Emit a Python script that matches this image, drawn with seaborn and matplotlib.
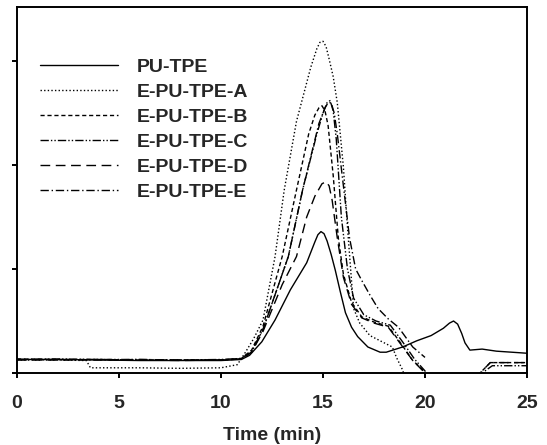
import numpy as np
import pandas as pd
import matplotlib
matplotlib.use("Agg")
import matplotlib.pyplot as plt
import seaborn as sns

# ---- data ----
series_names = ["PU-TPE", "E-PU-TPE-A", "E-PU-TPE-B", "E-PU-TPE-C", "E-PU-TPE-D", "E-PU-TPE-E"]

t_pu = [0, 2, 4, 6, 8, 10, 11, 11.4, 12.0, 12.65, 13.4, 14.2, 14.6, 14.75, 14.9, 15.05, 15.2, 15.4, 15.6,
        15.85, 16.1, 16.4, 16.7, 17.2, 17.8, 18.1, 18.9, 19.6, 20.3, 20.9, 21.2, 21.4, 21.6, 21.8, 21.96,
        22.2, 22.8, 23.5, 25]
y_pu = [0.13, 0.13, 0.125, 0.12, 0.12, 0.12, 0.13, 0.17, 0.30, 0.51, 0.80, 1.06, 1.26, 1.33, 1.36, 1.34,
        1.27, 1.14, 0.99, 0.78, 0.58, 0.44, 0.35, 0.25, 0.20, 0.20, 0.25, 0.31, 0.36, 0.43, 0.48, 0.50, 0.47,
        0.38, 0.29, 0.22, 0.23, 0.21, 0.19]

t_a = [0, 2, 3.4, 3.6, 6, 8, 10, 10.8, 11.2, 11.6, 12.06, 12.65, 13.1, 13.7, 14.4, 14.7, 14.85, 15.0,
       15.15, 15.3, 15.5, 15.7, 16.0, 16.2, 16.5, 16.8, 17.3, 18.0, 18.4, 18.6, 18.9, 19.1]
y_a = [0.125, 0.125, 0.12, 0.05, 0.05, 0.045, 0.05, 0.08, 0.20, 0.33, 0.51, 1.12, 1.76, 2.42, 2.94, 3.12,
       3.18, 3.19, 3.14, 3.02, 2.85, 2.60, 1.98, 1.40, 0.62, 0.48, 0.36, 0.29, 0.25, 0.15, 0.03, -0.1]

t_b = [0, 2, 4, 6, 8, 10, 11, 11.5, 12.06, 13.0, 13.7, 14.3, 14.6, 14.8, 14.95, 15.1, 15.25, 15.5, 15.75,
       16.0, 16.4, 16.9, 17.5, 18.2, 18.8, 19.4, 19.9, 20.5, 21.5, 22.5, 22.7, 23.2, 25]
y_b = [0.135, 0.13, 0.13, 0.125, 0.125, 0.125, 0.14, 0.22, 0.45, 1.12, 1.76, 2.30, 2.48, 2.55, 2.57, 2.52,
       2.38, 1.90, 1.30, 0.95, 0.68, 0.54, 0.49, 0.45, 0.29, 0.12, 0.03, -0.2, -0.3, -0.1, 0.0, 0.10, 0.10]

t_c = [0, 2, 4, 6, 8, 10, 11, 11.5, 12.06, 13.3, 14.0, 14.7, 15.0, 15.2, 15.35, 15.5, 15.65, 15.9, 16.2,
       16.5, 17.0, 17.6, 18.3, 18.9, 19.5, 20.0, 20.5, 21.5, 22.6, 22.8, 23.3, 25]
y_c = [0.13, 0.135, 0.13, 0.13, 0.125, 0.13, 0.14, 0.21, 0.42, 1.12, 1.76, 2.30, 2.50, 2.60, 2.62, 2.52,
       2.25, 1.50, 1.00, 0.72, 0.56, 0.50, 0.46, 0.30, 0.13, 0.02, -0.2, -0.3, -0.1, 0.0, 0.07, 0.07]

t_d = [0, 2, 4, 6, 8, 10, 11, 11.5, 12.06, 13.0, 13.7, 14.2, 14.6, 14.95, 15.15, 15.3, 15.45, 15.7, 16.0,
       16.4, 16.9, 17.5, 18.2, 18.8, 19.4, 20.0, 20.5, 21.5, 22.5, 22.7, 23.2, 25]
y_d = [0.125, 0.125, 0.13, 0.125, 0.12, 0.125, 0.135, 0.20, 0.40, 0.85, 1.12, 1.50, 1.70, 1.82, 1.84, 1.80,
       1.66, 1.30, 0.92, 0.66, 0.53, 0.48, 0.44, 0.28, 0.12, 0.0, -0.2, -0.3, -0.1, 0.0, 0.10, 0.10]

t_e = [0, 2, 4, 6, 8, 10, 11, 11.5, 12.06, 13.3, 14.0, 14.8, 15.1, 15.25, 15.4, 15.55, 15.7, 16.0, 16.3,
       16.6, 16.9, 17.3, 17.7, 18.2, 18.7, 19.4, 20.0]
y_e = [0.13, 0.13, 0.125, 0.13, 0.125, 0.125, 0.135, 0.20, 0.42, 1.12, 1.76, 2.40, 2.55, 2.60, 2.60, 2.50,
       2.30, 1.80, 1.30, 1.00, 0.89, 0.75, 0.62, 0.52, 0.44, 0.25, 0.15]

times = [t_pu, t_a, t_b, t_c, t_d, t_e]
values = [y_pu, y_a, y_b, y_c, y_d, y_e]

x_ticks = [0, 5, 10, 15, 20, 25]
y_ticks = [0, 1, 2, 3]

frames = []
for name, t, y in zip(series_names, times, values):
    frames.append(pd.DataFrame({"Time": t, "Signal": y, "Sample": name}))
df = pd.concat(frames, ignore_index=True)

# ---- style ----
sns.set_style("ticks")
plt.rcParams["font.family"] = ["Liberation Sans", "DejaVu Sans"]

fig = plt.figure(figsize=(5.47, 4.45), dpi=100)
ax = fig.add_axes([17 / 547, 72 / 445, 510 / 547, 366 / 445])

dash_map = {
    "PU-TPE": "",
    "E-PU-TPE-A": (1, 1.6),
    "E-PU-TPE-B": (3, 2),
    "E-PU-TPE-C": (6, 1.5, 1, 1.5, 1, 1.5),
    "E-PU-TPE-D": (7, 4),
    "E-PU-TPE-E": (6, 2, 1, 2),
}

sns.lineplot(data=df, x="Time", y="Signal", style="Sample", style_order=series_names,
             dashes=dash_map, color="black", linewidth=1.0, sort=False, estimator=None,
             ax=ax, legend="full")

handles, labels = ax.get_legend_handles_labels()
pairs = [(h, l) for h, l in zip(handles, labels) if l in series_names]
for h, _ in pairs:
    h.set_color("black")
    h.set_linewidth(1.0)
ax.legend([p[0] for p in pairs], [p[1] for p in pairs], loc="upper left",
          bbox_to_anchor=(0.045, 0.860), frameon=False, handlelength=4.0,
          handletextpad=1.0, labelspacing=0.38, borderaxespad=0, borderpad=0,
          prop={"weight": "bold", "size": 14})

ax.set_xlim(0, 25)
ax.set_ylim(0, 3.52)
ax.set_xticks(x_ticks)
ax.set_xticklabels([str(v) for v in x_ticks], fontweight="bold", fontsize=14)
ax.set_yticks(y_ticks)
ax.set_yticklabels([])
ax.set_xlabel("Time (min)", fontweight="bold", fontsize=14, labelpad=11)
ax.set_ylabel("")

for s in ax.spines.values():
    s.set_visible(True)
    s.set_linewidth(1.4)
    s.set_color("black")
ax.tick_params(axis="both", direction="out", length=3.6, width=1.4, color="black", pad=12)
ax.tick_params(axis="y", left=True, right=False)
ax.tick_params(axis="x", bottom=True, top=False)

fig.savefig("out.png", dpi=100)
